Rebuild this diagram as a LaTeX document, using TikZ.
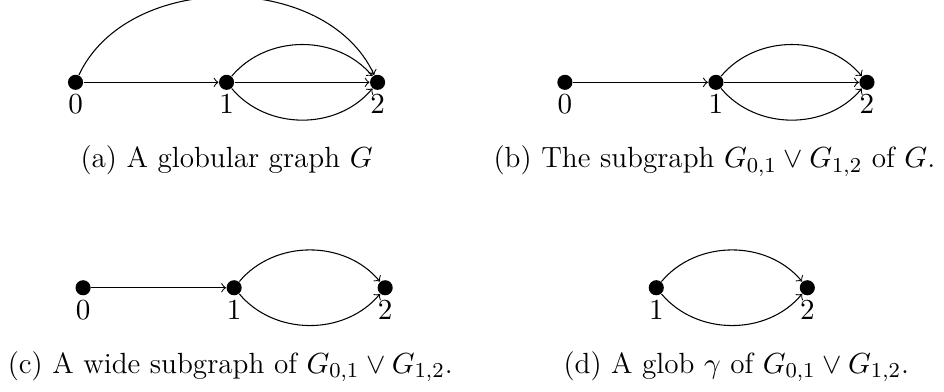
\documentclass[tikz,border=0pt]{standalone}
\usepackage{tikz}
\usetikzlibrary{positioning}

\begin{document}
\begin{tikzpicture}[
  font=\fontsize{11}{13.2}\selectfont,
  vtx/.style={circle, fill=black, inner sep=0pt, minimum size=0.2cm},
  every label/.style={inner sep=1.5pt},
  arrow/.style={->},
  subcap/.style={anchor=base},
]
\useasboundingbox (0,0) rectangle (12.5,-5.19);

% (a) globular graph
\node[vtx, label=below:$0$] (a0) at (1,-1.09) {};
\node[vtx, label=below:$1$, right=2cm of a0.center, anchor=center] (a1) {};
\node[vtx, label=below:$2$, right=2cm of a1.center, anchor=center] (a2) {};
\draw[arrow] (a0) -- (a1);
\draw[arrow] (a0) to[bend left=65] (a2);
\draw[arrow] (a1) to[bend left=50] (a2);
\draw[arrow] (a1) -- (a2);
\draw[arrow] (a1) to[bend right=50] (a2);
\node[subcap] (capa) at (3,-2.22) {(a) A globular graph $G$};

% (b) subgraph
\node[vtx, label=below:$0$] (b0) at (7.48,-1.09) {};
\node[vtx, label=below:$1$, right=2cm of b0.center, anchor=center] (b1) {};
\node[vtx, label=below:$2$, right=2cm of b1.center, anchor=center] (b2) {};
\draw[arrow] (b0) -- (b1);
\draw[arrow] (b1) to[bend left=50] (b2);
\draw[arrow] (b1) -- (b2);
\draw[arrow] (b1) to[bend right=50] (b2);
\node[subcap] (capb) at (9.46,-2.22) {(b) The subgraph $G_{0,1}\vee G_{1,2}$ of $G$.};

% (c) wide subgraph
\node[vtx, label=below:$0$] (c0) at (1.1,-3.81) {};
\node[vtx, label=below:$1$, right=2cm of c0.center, anchor=center] (c1) {};
\node[vtx, label=below:$2$, right=2cm of c1.center, anchor=center] (c2) {};
\draw[arrow] (c0) -- (c1);
\draw[arrow] (c1) to[bend left=50] (c2);
\draw[arrow] (c1) to[bend right=50] (c2);
\node[subcap] (capc) at (3.05,-4.94) {(c) A wide subgraph of $G_{0,1}\vee G_{1,2}$.};

% (d) glob
\node[vtx, label=below:$1$] (d1) at (8.69,-3.81) {};
\node[vtx, label=below:$2$, right=2cm of d1.center, anchor=center] (d2) {};
\draw[arrow] (d1) to[bend left=50] (d2);
\draw[arrow] (d1) to[bend right=50] (d2);
\node[subcap] (capd) at (9.75,-4.94) {(d) A glob $\gamma$ of $G_{0,1}\vee G_{1,2}$.};
\end{tikzpicture}
\end{document}
